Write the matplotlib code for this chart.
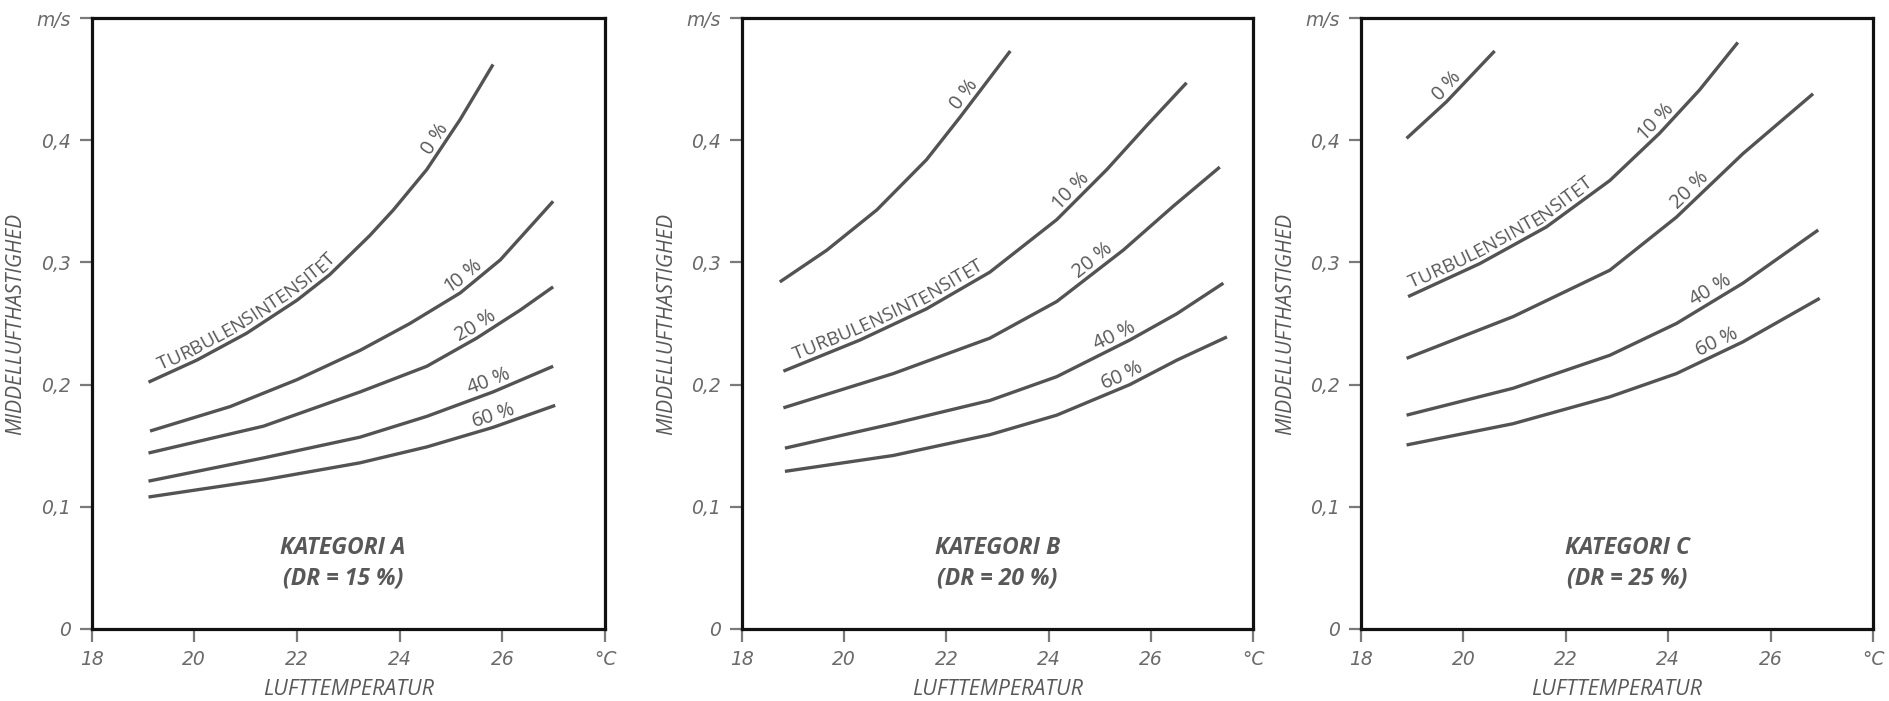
import matplotlib
matplotlib.use("Agg")
import matplotlib.pyplot as plt
import numpy as np
from matplotlib import font_manager as fm
from matplotlib.ft2font import FT2Font

# ---------------- data ----------------
x_ticks = [18, 20, 22, 24, 26, 28]
x_ticklabels = ["18", "20", "22", "24", "26", "°C"]
y_ticks = [0, 0.1, 0.2, 0.3, 0.4, 0.5]
y_ticklabels = ["0", "0,1", "0,2", "0,3", "0,4", "m/s"]

turb_levels = ["0 %", "10 %", "20 %", "40 %", "60 %"]
categories = ["KATEGORI A", "KATEGORI B", "KATEGORI C"]
dr_labels = ["(DR = 15 %)", "(DR = 20 %)", "(DR = 25 %)"]

# Kategori A (DR = 15 %)
a_t_0 = [19.11, 20.05, 21.02, 22.0, 22.64, 23.42, 23.88, 24.53, 25.18, 25.82]
a_v_0 = [0.202, 0.220, 0.242, 0.269, 0.290, 0.322, 0.343, 0.376, 0.417, 0.462]
a_t_10 = [19.14, 20.70, 22.0, 23.23, 24.20, 25.18, 25.96, 26.99]
a_v_10 = [0.162, 0.182, 0.204, 0.228, 0.250, 0.275, 0.302, 0.350]
a_t_20 = [19.11, 21.35, 23.23, 24.53, 25.5, 26.35, 26.99]
a_v_20 = [0.144, 0.166, 0.194, 0.215, 0.238, 0.261, 0.280]
a_t_40 = [19.11, 21.35, 23.23, 24.53, 25.82, 26.99]
a_v_40 = [0.121, 0.140, 0.157, 0.174, 0.194, 0.215]
a_t_60 = [19.11, 21.35, 23.23, 24.53, 25.82, 27.03]
a_v_60 = [0.108, 0.122, 0.136, 0.149, 0.165, 0.183]

# Kategori B (DR = 20 %)
b_t_0 = [18.74, 19.66, 20.64, 21.61, 22.27, 23.25]
b_v_0 = [0.284, 0.310, 0.343, 0.384, 0.419, 0.473]
b_t_10 = [18.81, 20.31, 21.61, 22.85, 24.16, 25.14, 25.92, 26.70]
b_v_10 = [0.211, 0.2365, 0.262, 0.292, 0.335, 0.376, 0.412, 0.447]
b_t_20 = [18.81, 20.96, 22.85, 24.16, 25.46, 26.44, 27.35]
b_v_20 = [0.181, 0.209, 0.238, 0.268, 0.310, 0.346, 0.378]
b_t_40 = [18.84, 20.96, 22.85, 24.16, 25.59, 26.51, 27.42]
b_v_40 = [0.148, 0.168, 0.187, 0.2065, 0.2365, 0.258, 0.283]
b_t_60 = [18.84, 20.96, 22.85, 24.16, 25.59, 26.51, 27.49]
b_v_60 = [0.129, 0.142, 0.159, 0.175, 0.200, 0.220, 0.239]

# Kategori C (DR = 25 %)
c_t_0 = [18.89, 19.67, 20.61]
c_v_0 = [0.4015, 0.4315, 0.473]
c_t_10 = [18.92, 20.32, 21.62, 22.86, 23.83, 24.61, 25.36]
c_v_10 = [0.272, 0.299, 0.329, 0.367, 0.4056, 0.441, 0.480]
c_t_20 = [18.89, 20.97, 22.86, 24.16, 25.46, 26.83]
c_v_20 = [0.2215, 0.2556, 0.2936, 0.337, 0.389, 0.438]
c_t_40 = [18.89, 20.97, 22.86, 24.16, 25.46, 26.93]
c_v_40 = [0.175, 0.197, 0.224, 0.250, 0.283, 0.3265]
c_t_60 = [18.89, 20.97, 22.86, 24.16, 25.46, 26.96]
c_v_60 = [0.1506, 0.168, 0.190, 0.209, 0.235, 0.2706]

panels = [
    [(a_t_0, a_v_0), (a_t_10, a_v_10), (a_t_20, a_v_20), (a_t_40, a_v_40), (a_t_60, a_v_60)],
    [(b_t_0, b_v_0), (b_t_10, b_v_10), (b_t_20, b_v_20), (b_t_40, b_v_40), (b_t_60, b_v_60)],
    [(c_t_0, c_v_0), (c_t_10, c_v_10), (c_t_20, c_v_20), (c_t_40, c_v_40), (c_t_60, c_v_60)],
]

# temperature where each curve label is centred (per panel, per level)
pct_label_t = [
    [24.86, 25.36, 25.60, 25.81, 25.89],
    [22.51, 24.58, 24.99, 25.38, 25.53],
    [19.83, 23.90, 24.56, 24.93, 25.04],
]
# "TURBULENSINTENSITET": (curve index, temperature)
turb_text = [(0, 21.21), (1, 20.99), (1, 20.89)]
cat_pos = [(22.9, 0.066), (23.0, 0.066), (23.2, 0.066)]

# ---------------- figure ----------------
W, H = 1889, 701
DPI = 100
fig = plt.figure(figsize=(W / DPI, H / DPI), dpi=DPI)
fig.patch.set_facecolor("white")

axes_px = [(91.5, 605), (742, 1253), (1361, 1873)]
top_px, bot_px = 18, 629

curve_color = "#4a4a4a"
text_color = "#585858"
tick_color = "#7a7a7a"
label_font = "Open Sans"


def char_advances(text, family, size_pt):
    fp = fm.FontProperties(family=family)
    try:
        f = FT2Font(fm.findfont(fp))
        f.set_size(size_pt, DPI)
        adv = []
        for ch in text:
            g = f.load_char(ord(ch))
            adv.append(g.linearHoriAdvance / 65536.0)
        return adv
    except Exception:
        r = fig.canvas.get_renderer()
        fp.set_size(size_pt)
        out = []
        for ch in text:
            w, _, _ = r.get_text_width_height_descent(ch if ch != " " else "i", fp, ismath=False)
            out.append(w)
        return out


def text_on_curve(ax, t, v, xt, text, size, dist_px=6.0):
    """Place text along the drawn curve, character by character."""
    tt = np.linspace(t[0], t[-1], 600)
    pts = ax.transData.transform(np.column_stack([tt, np.interp(tt, t, v)]))
    seg = np.hypot(np.diff(pts[:, 0]), np.diff(pts[:, 1]))
    s = np.concatenate([[0], np.cumsum(seg)])
    p_anchor = ax.transData.transform((xt, np.interp(xt, t, v)))
    s0 = np.interp(p_anchor[0], pts[:, 0], s)
    adv = char_advances(text, label_font, size)
    total = sum(adv)
    pos = -total / 2.0
    inv = ax.transData.inverted()
    for ch, a in zip(text, adv):
        sc = s0 + pos + a / 2.0
        pos += a
        if ch == " ":
            continue
        px = np.interp(sc, s, pts[:, 0])
        py = np.interp(sc, s, pts[:, 1])
        h = 7.0
        x_a, y_a = np.interp(sc - h, s, pts[:, 0]), np.interp(sc - h, s, pts[:, 1])
        x_b, y_b = np.interp(sc + h, s, pts[:, 0]), np.interp(sc + h, s, pts[:, 1])
        ang = np.arctan2(y_b - y_a, x_b - x_a)
        qx = px - np.sin(ang) * dist_px
        qy = py + np.cos(ang) * dist_px
        xd, yd = inv.transform((qx, qy))
        ax.text(xd, yd, ch, rotation=np.degrees(ang), rotation_mode="anchor",
                ha="center", va="baseline", fontsize=size, color=text_color,
                family=label_font)


for i, (x0, x1) in enumerate(axes_px):
    ax = fig.add_axes([x0 / W, (H - bot_px) / H, (x1 - x0) / W, (bot_px - top_px) / H])
    ax.set_xlim(18, 28)
    ax.set_ylim(0, 0.5)
    for sp in ax.spines.values():
        sp.set_color("#111111")
        sp.set_linewidth(2.3)
    ax.set_xticks(x_ticks)
    ax.set_xticklabels(x_ticklabels)
    ax.set_yticks(y_ticks)
    ax.set_yticklabels(y_ticklabels)
    ax.tick_params(direction="out", length=9, width=1.6, color=tick_color,
                   labelcolor="#6a6a6a", labelsize=13.5, pad=6)
    for lab in ax.get_xticklabels() + ax.get_yticklabels():
        lab.set_fontstyle("italic")
        lab.set_family("DejaVu Sans")

    for (t, v) in panels[i]:
        ax.plot(t, v, color=curve_color, lw=2.4, solid_capstyle="butt",
                solid_joinstyle="round", alpha=0.95)

    for lvl, xt, (t, v) in zip(turb_levels, pct_label_t[i], panels[i]):
        text_on_curve(ax, t, v, xt, lvl, 14.5)

    ci, xt = turb_text[i]
    t, v = panels[i][ci]
    text_on_curve(ax, t, v, xt, "TURBULENSINTENSITET", 13.8)

    cx, cy = cat_pos[i]
    ax.text(cx, cy, categories[i], ha="center", va="center", fontsize=16.5,
            fontweight="bold", fontstyle="italic", color=text_color, family=label_font)
    ax.text(cx, cy - 0.025, dr_labels[i], ha="center", va="center", fontsize=16.5,
            fontweight="bold", fontstyle="italic", color=text_color, family=label_font)

    ax.set_ylabel("MIDDELLUFTHASTIGHED", fontsize=15, fontstyle="italic",
                  color=text_color, family=label_font, labelpad=7)
    ax.set_xlabel("LUFTTEMPERATUR", fontsize=15.5, fontstyle="italic",
                  color=text_color, family=label_font, labelpad=7)

fig.savefig("out.png", dpi=DPI, facecolor="white")
